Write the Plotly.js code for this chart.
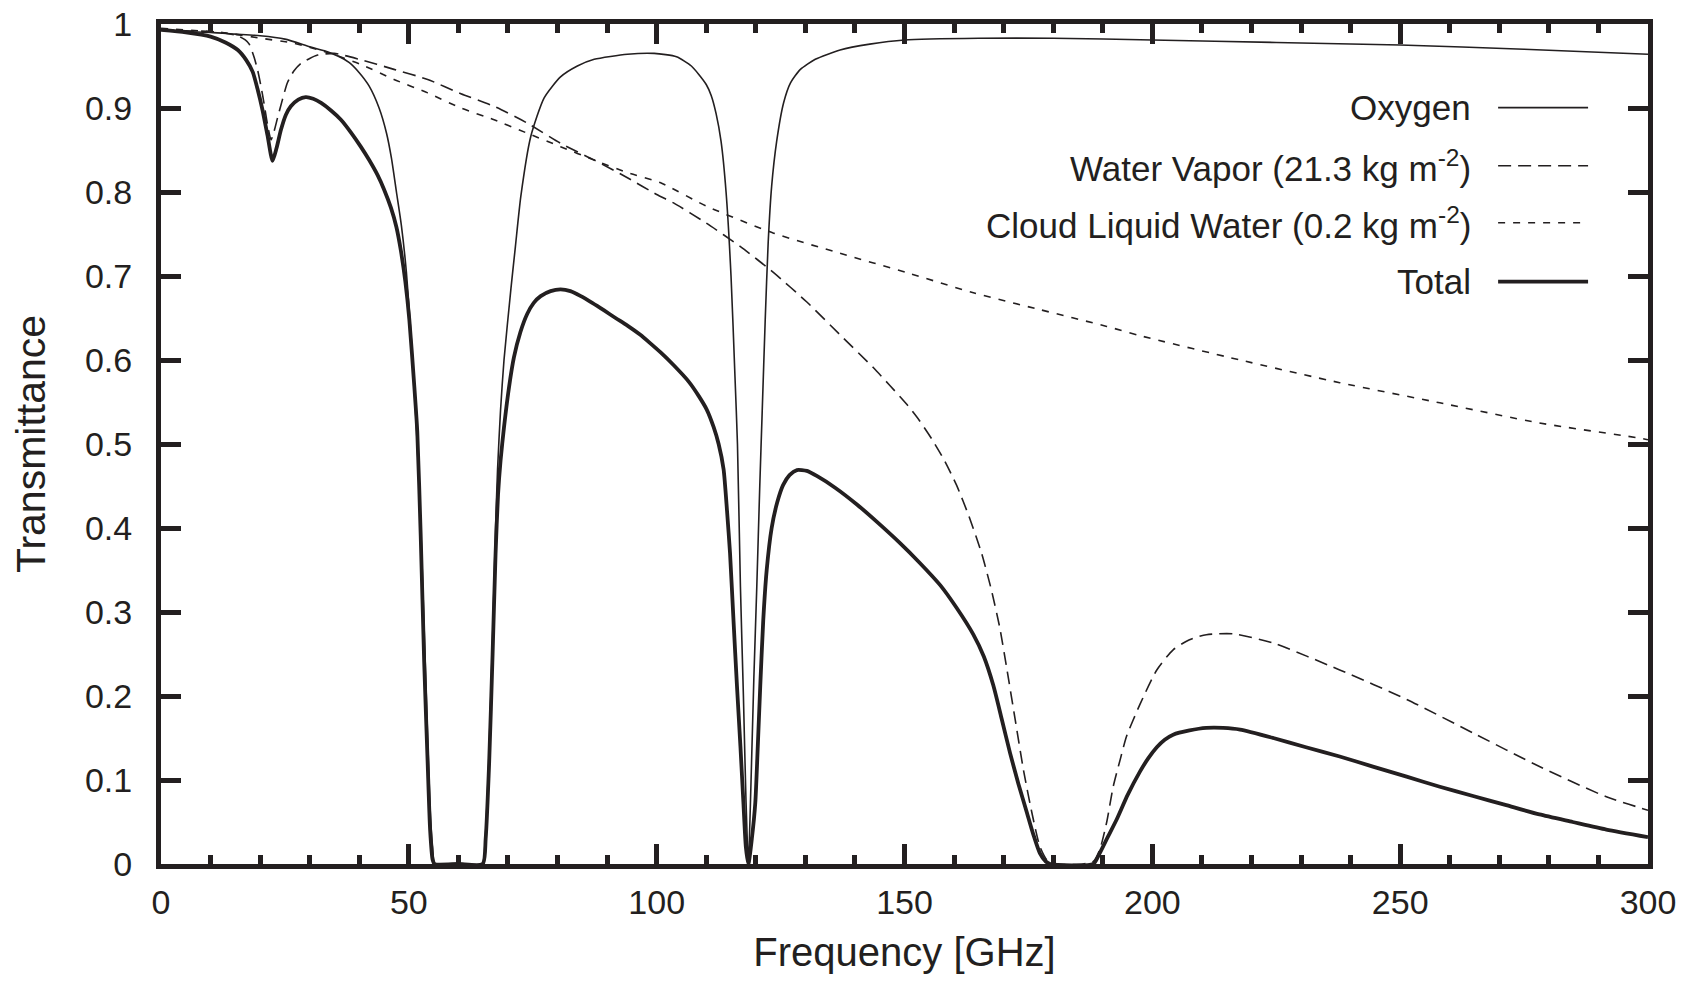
<!DOCTYPE html>
<html>
<head>
<meta charset="utf-8">
<script src="https://cdn.plot.ly/plotly-3.0.1.min.js"></script>
<style>
  html, body { margin: 0; padding: 0; background: #ffffff; }
  #chart { width: 1681px; height: 982px; }
</style>
</head>
<body>
<div id="chart"></div>
<script>
// ---------- Data ----------
const seriesNames = ["Oxygen", "Water Vapor (21.3 kg m<sup>-2</sup>)", "Cloud Liquid Water (0.2 kg m<sup>-2</sup>)", "Total"];

const oxygenFreq = [0, 5, 10, 15, 20, 25, 30, 33, 36, 38, 40, 42, 44, 45.5, 46.5, 47.5, 48.5, 49.5, 50.5, 51.3, 52, 52.6, 53.2, 53.8, 54.3, 54.8, 55.3, 60, 64.8, 65.4, 66.1, 66.9, 67.5, 67.9, 68.5, 69.2, 70.6, 71.5, 72.6, 74.6, 77.3, 80.6, 84, 87.4, 94.1, 99.5, 104, 107, 108.5, 110, 111, 112, 113, 114, 115, 115.8, 116.3, 116.9, 117.5, 118, 118.5, 119, 119.6, 120.2, 120.8, 121.3, 121.9, 122.5, 123.2, 124.2, 125.6, 127, 129, 132, 137, 143, 150, 165, 180, 200, 225, 250, 275, 300];
const oxygenT = [0.993, 0.991, 0.99, 0.988, 0.986, 0.982, 0.973, 0.968, 0.961, 0.954, 0.942, 0.926, 0.9, 0.87, 0.84, 0.8, 0.76, 0.705, 0.625, 0.545, 0.46, 0.37, 0.26, 0.15, 0.065, 0.02, 0, 0, 0, 0.03, 0.12, 0.27, 0.4, 0.47, 0.54, 0.6, 0.685, 0.735, 0.795, 0.866, 0.912, 0.937, 0.95, 0.958, 0.964, 0.965, 0.961, 0.95, 0.94, 0.928, 0.915, 0.893, 0.86, 0.8, 0.7, 0.58, 0.5, 0.33, 0.2, 0.08, 0, 0.09, 0.22, 0.33, 0.45, 0.54, 0.648, 0.74, 0.807, 0.86, 0.906, 0.93, 0.946, 0.958, 0.969, 0.976, 0.981, 0.983, 0.983, 0.981, 0.978, 0.975, 0.97, 0.964];

const vaporFreq = [0, 5, 10, 13, 15.5, 17, 17.8, 18.8, 19.5, 20.2, 20.8, 21.5, 22.2, 22.8, 23.5, 24.5, 25.5, 26.8, 28.2, 30, 31.6, 34.9, 40, 47, 53.8, 60.5, 67.2, 73.9, 80.6, 87.4, 94.1, 100, 103.4, 110, 116.9, 123.6, 130.3, 137, 143.7, 147, 150.5, 153, 155.5, 158, 160.5, 163, 165.5, 167.5, 169.2, 170.6, 172.3, 174, 175.7, 177.3, 178.7, 180, 186, 188.1, 189.4, 190.8, 192.1, 193.5, 194.8, 197.5, 200.9, 204.2, 207.5, 210.9, 216.3, 224.4, 237.8, 251.3, 264.7, 278.1, 291.6, 300];
const vaporT = [0.993, 0.992, 0.991, 0.989, 0.986, 0.981, 0.976, 0.96, 0.945, 0.925, 0.905, 0.88, 0.862, 0.872, 0.888, 0.91, 0.93, 0.944, 0.953, 0.959, 0.963, 0.965, 0.958, 0.946, 0.934, 0.917, 0.902, 0.882, 0.858, 0.838, 0.817, 0.797, 0.787, 0.763, 0.735, 0.704, 0.669, 0.63, 0.591, 0.57, 0.547, 0.528, 0.506, 0.481, 0.451, 0.414, 0.371, 0.327, 0.282, 0.234, 0.173, 0.112, 0.061, 0.021, 0.005, 0, 0, 0.003, 0.017, 0.05, 0.092, 0.124, 0.152, 0.19, 0.231, 0.255, 0.267, 0.273, 0.274, 0.263, 0.231, 0.196, 0.156, 0.116, 0.08, 0.064];

const cloudFreq = [0, 13.4, 20.2, 26.9, 33.6, 40.3, 47, 53.8, 60.5, 67.2, 73.9, 80.6, 87.4, 94.1, 100.8, 110.1, 123.6, 137, 150.5, 163.9, 177.3, 190.8, 197.5, 217.7, 237.8, 258, 278.1, 298.3, 300];
const cloudT = [0.995, 0.989, 0.983, 0.977, 0.966, 0.952, 0.934, 0.918, 0.9, 0.886, 0.87, 0.854, 0.838, 0.823, 0.811, 0.783, 0.751, 0.727, 0.704, 0.68, 0.66, 0.64, 0.629, 0.6, 0.573, 0.549, 0.525, 0.507, 0.505];

const totalFreq = [0, 5, 10, 13, 15.5, 17.2, 18.5, 19.5, 20.5, 21.5, 22.5, 23.3, 24.2, 25.2, 26.2, 27.7, 29.2, 30.7, 32.3, 34.3, 36.3, 38.3, 40.3, 42, 43.7, 45, 46.4, 47.5, 48.4, 49.3, 50.1, 51.1, 51.7, 52.4, 53.1, 53.8, 54.3, 54.8, 55.2, 60, 64.9, 65.5, 66.2, 66.9, 67.5, 68, 68.5, 69.2, 70.2, 71.2, 72.5, 73.9, 75.2, 76.6, 78.6, 80.6, 82.6, 84.7, 87, 89.4, 91.7, 94.1, 96.7, 98.5, 100.8, 103.4, 106.5, 108.5, 110.1, 111.5, 112.5, 113.5, 114.2, 114.8, 115.5, 116.2, 116.9, 117.5, 118, 118.5, 119.2, 119.9, 120.4, 120.9, 121.5, 122.2, 123.2, 124.3, 125.5, 126.8, 128.3, 130.3, 132.3, 136, 140.4, 144.5, 149.1, 153, 157.2, 160.5, 163.9, 166, 167.9, 169.6, 171.3, 173, 174.7, 176, 177.3, 178.5, 179.4, 188.1, 189.4, 191, 192.8, 195, 197.5, 199.2, 200.9, 202.5, 204.2, 207.5, 210.9, 214.3, 217.7, 224.4, 231, 237.8, 244.5, 251.3, 258, 264.7, 271.4, 278.1, 284.8, 291.6, 300];
const totalT = [0.993, 0.99, 0.985, 0.978, 0.969, 0.957, 0.943, 0.922, 0.897, 0.867, 0.837, 0.852, 0.874, 0.892, 0.902, 0.91, 0.913, 0.911, 0.906, 0.897, 0.886, 0.871, 0.854, 0.838, 0.82, 0.803, 0.781, 0.758, 0.73, 0.693, 0.648, 0.569, 0.515, 0.39, 0.24, 0.12, 0.04, 0.005, 0, 0, 0, 0.03, 0.12, 0.25, 0.37, 0.44, 0.48, 0.52, 0.567, 0.603, 0.633, 0.655, 0.668, 0.676, 0.682, 0.684, 0.682, 0.676, 0.668, 0.659, 0.65, 0.641, 0.63, 0.621, 0.609, 0.594, 0.574, 0.557, 0.541, 0.52, 0.5, 0.47, 0.42, 0.37, 0.29, 0.212, 0.14, 0.073, 0.02, 0, 0.03, 0.073, 0.14, 0.212, 0.29, 0.35, 0.4, 0.43, 0.451, 0.463, 0.469, 0.468, 0.462, 0.448, 0.428, 0.407, 0.382, 0.359, 0.332, 0.305, 0.273, 0.247, 0.213, 0.173, 0.132, 0.095, 0.061, 0.035, 0.013, 0.003, 0, 0, 0.013, 0.032, 0.053, 0.082, 0.11, 0.126, 0.139, 0.148, 0.154, 0.159, 0.162, 0.162, 0.16, 0.15, 0.139, 0.128, 0.116, 0.104, 0.092, 0.081, 0.07, 0.059, 0.05, 0.041, 0.032];

const xTickVals = [0, 50, 100, 150, 200, 250, 300];
const xTickText = ["0", "50", "100", "150", "200", "250", "300"];
const yTickVals = [0, 0.1, 0.2, 0.3, 0.4, 0.5, 0.6, 0.7, 0.8, 0.9, 1];
const yTickText = ["0", "0.1", "0.2", "0.3", "0.4", "0.5", "0.6", "0.7", "0.8", "0.9", "1"];

// ---------- Styles ----------
const ink = "#231f20";
const fontFam = "'Liberation Sans', Arial, Helvetica, sans-serif";
const lineStyles = [
  { color: ink, width: 1.6, dash: "solid" },
  { color: ink, width: 1.6, dash: "13px,7px" },
  { color: ink, width: 1.6, dash: "7px,8px" },
  { color: ink, width: 3.8, dash: "solid" }
];
const xs = [oxygenFreq, vaporFreq, cloudFreq, totalFreq];
const ys = [oxygenT, vaporT, cloudT, totalT];

const traces = seriesNames.map((name, i) => ({
  type: "scatter",
  mode: "lines",
  name: name,
  x: xs[i],
  y: ys[i],
  line: Object.assign({ shape: "spline", smoothing: 0.6 }, lineStyles[i]),
  showlegend: false,
  hoverinfo: "x+y+name"
}));

// Legend drawn on the right, text then line sample (as in the reference)
const legendTextX = 0.8823, legendLineX0 = 0.8992, legendLineX1 = 0.9597;
const legendY = [0.9004, 0.8313, 0.7634, 0.6932];
const annotations = seriesNames.map((name, i) => ({
  xref: "paper", yref: "paper",
  x: legendTextX, y: legendY[i],
  xanchor: "right", yanchor: "middle",
  text: name, showarrow: false,
  font: { family: fontFam, size: 35, color: ink }
}));
const shapes = seriesNames.map((name, i) => ({
  type: "line", xref: "paper", yref: "paper",
  x0: legendLineX0, x1: legendLineX1, y0: legendY[i], y1: legendY[i],
  line: { color: ink, width: lineStyles[i].width, dash: lineStyles[i].dash }
}));

const layout = {
  width: 1681, height: 982,
  margin: { l: 161, r: 33, t: 24, b: 118, pad: 0 },
  paper_bgcolor: "#ffffff", plot_bgcolor: "#ffffff",
  font: { family: fontFam, color: ink },
  showlegend: false,
  xaxis: {
    range: [0, 300],
    tickvals: xTickVals, ticktext: xTickText,
    ticks: "inside", ticklen: 20, tickwidth: 5, tickcolor: ink,
    minor: { dtick: 10, tick0: 0, ticks: "inside", ticklen: 9, tickwidth: 5, tickcolor: ink, showgrid: false },
    showline: true, linewidth: 5, linecolor: ink, mirror: "ticks",
    showgrid: false, zeroline: false,
    tickfont: { family: fontFam, size: 34, color: ink },
    ticklabelstandoff: 4,
    title: { text: "Frequency [GHz]", font: { family: fontFam, size: 40, color: ink }, standoff: 20 }
  },
  yaxis: {
    range: [0, 1],
    tickvals: yTickVals, ticktext: yTickText,
    ticks: "inside", ticklen: 20, tickwidth: 5, tickcolor: ink,
    showline: true, linewidth: 5, linecolor: ink, mirror: "ticks",
    showgrid: false, zeroline: false,
    tickfont: { family: fontFam, size: 34, color: ink },
    ticklabelstandoff: 17,
    title: { text: "Transmittance", font: { family: fontFam, size: 41, color: ink }, standoff: 28 }
  },
  annotations: annotations,
  shapes: shapes
};

Plotly.newPlot("chart", traces, layout, { displayModeBar: false, staticPlot: true });
</script>
</body>
</html>
